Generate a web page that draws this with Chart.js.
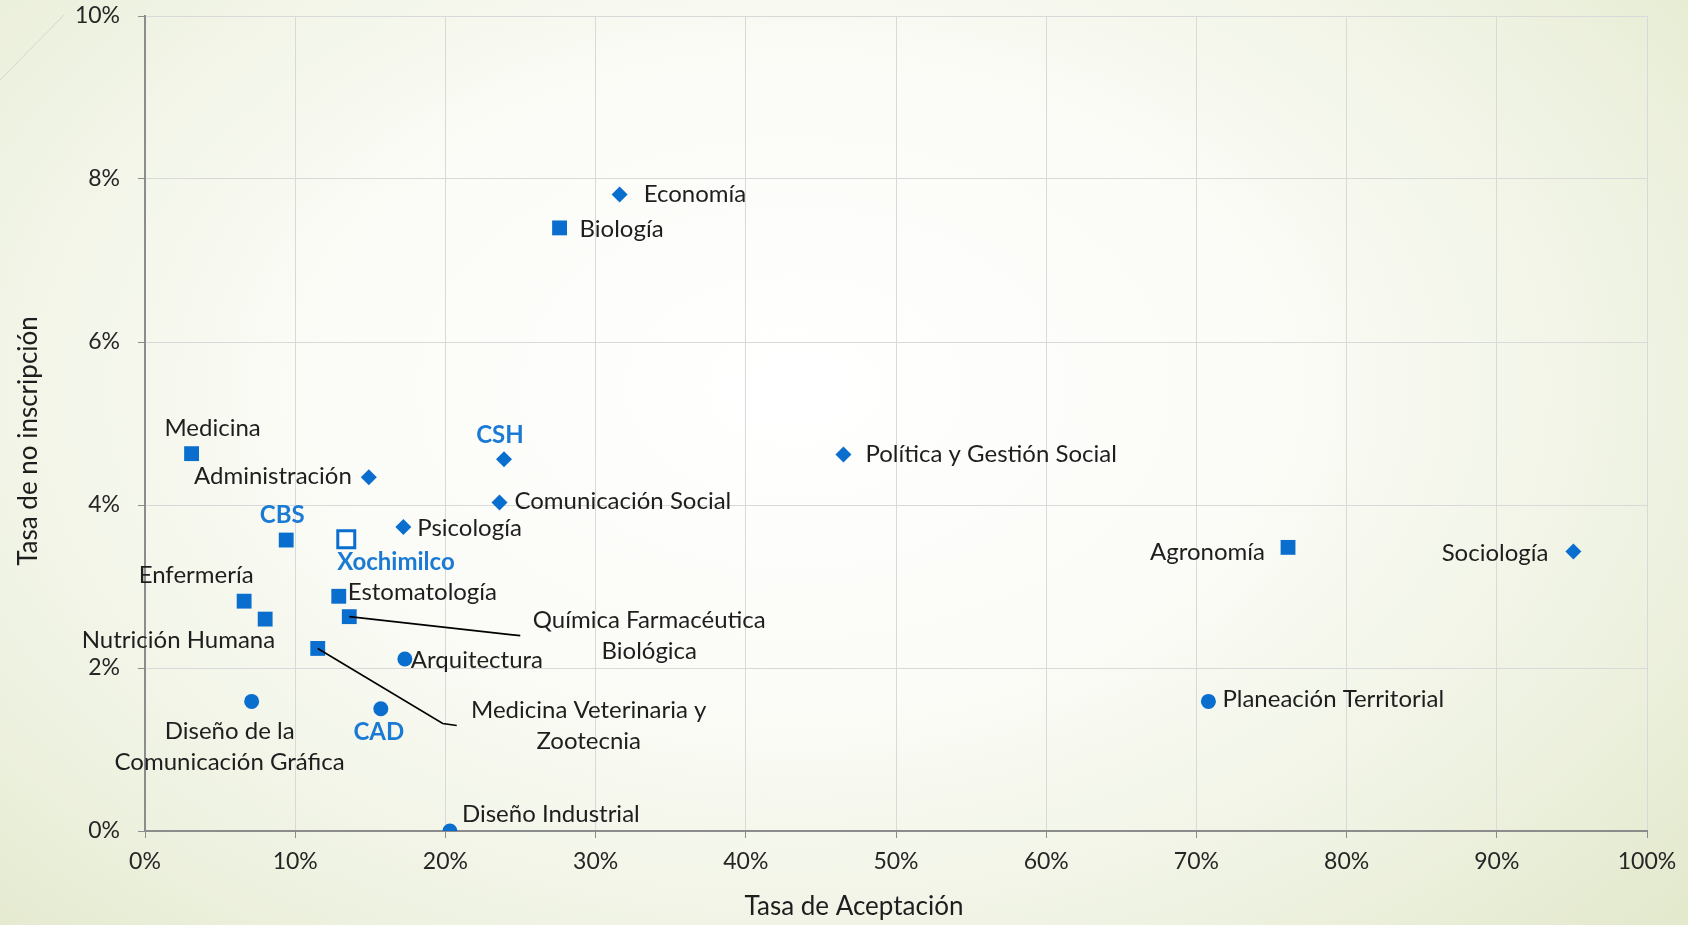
<!DOCTYPE html>
<html>
<head>
<meta charset="utf-8">
<script src="https://cdn.jsdelivr.net/npm/chart.js@4.4.1/dist/chart.umd.min.js"></script>
<style>
  html, body { margin: 0; padding: 0; }
  body {
    width: 1688px; height: 925px; overflow: hidden;
    background: radial-gradient(ellipse 70% 85% at 47% 42%, #ffffff 0%, #fbfcf7 40%, #eef2e1 75%, #e3e9cd 100%);
  }
  canvas { display: block; }
</style>
</head>
<body>
<canvas id="grafica" width="1688" height="925"></canvas>
<script>
// División CSH (rombos)
const carrerasCSH = ['Economía', 'Política y Gestión Social', 'Administración', 'Comunicación Social', 'Psicología', 'Sociología'];
const aceptacionCSH = [31.6, 46.5, 14.9, 23.6, 17.2, 95.1];
const noInscripcionCSH = [7.81, 4.62, 4.34, 4.03, 3.73, 3.43];

// División CBS (cuadrados)
const carrerasCBS = ['Biología', 'Medicina', 'Enfermería', 'Nutrición Humana', 'Estomatología',
  'Química Farmacéutica Biológica', 'Medicina Veterinaria y Zootecnia', 'Agronomía'];
const aceptacionCBS = [27.6, 3.1, 6.6, 8.0, 12.9, 13.6, 11.5, 76.1];
const noInscripcionCBS = [7.40, 4.63, 2.82, 2.60, 2.88, 2.63, 2.24, 3.48];

// División CAD (círculos)
const carrerasCAD = ['Arquitectura', 'Diseño de la Comunicación Gráfica', 'Diseño Industrial', 'Planeación Territorial'];
const aceptacionCAD = [17.3, 7.1, 20.3, 70.8];
const noInscripcionCAD = [2.11, 1.59, 0.0, 1.59];

// Totales por división y unidad
const divisiones = ['CSH', 'CBS', 'CAD'];
const aceptacionDiv = [23.9, 9.4, 15.7];
const noInscripcionDiv = [4.56, 3.57, 1.50];

const unidad = ['Xochimilco'];
const aceptacionUnidad = [13.4];
const noInscripcionUnidad = [3.58];

const ticksX = [0, 10, 20, 30, 40, 50, 60, 70, 80, 90, 100];
const ticksY = [0, 2, 4, 6, 8, 10];

const AZUL = '#0A6ECF';
const AZUL_TEXTO = '#1A7AD4';
const TEXTO = '#1e1e1e';
const FUENTE = 'Lato, "Open Sans", sans-serif';

// posición de cada etiqueta respecto a su punto (px)
const etiquetas = {
  'Economía': { dx: 24, dy: 8, align: 'left' },
  'Política y Gestión Social': { dx: 22, dy: 8, align: 'left' },
  'Administración': { dx: -17, dy: 7, align: 'right' },
  'Comunicación Social': { dx: 15, dy: 6, align: 'left' },
  'Psicología': { dx: 14, dy: 9, align: 'left' },
  'Sociología': { dx: -25, dy: 10, align: 'right' },
  'Biología': { dx: 20, dy: 9, align: 'left' },
  'Medicina': { dx: 21, dy: -18, align: 'center' },
  'Enfermería': { dx: -48, dy: -18, align: 'center' },
  'Nutrición Humana': { dx: 10, dy: 29, align: 'right' },
  'Estomatología': { dx: 9, dy: 4, align: 'left' },
  'Química Farmacéutica Biológica': { dx: 300, dy: 11, align: 'center', lineas: ['Química Farmacéutica', 'Biológica'], guia: [[161, 18], [171, 19]] },
  'Medicina Veterinaria y Zootecnia': { dx: 271, dy: 70, align: 'center', lineas: ['Medicina Veterinaria y', 'Zootecnia'], guia: [[125, 75], [139, 77]] },
  'Agronomía': { dx: -23, dy: 13, align: 'right' },
  'Arquitectura': { dx: 6, dy: 9, align: 'left' },
  'Diseño de la Comunicación Gráfica': { dx: -22, dy: 38, align: 'center', lineas: ['Diseño de la', 'Comunicación Gráfica'] },
  'Diseño Industrial': { dx: 12, dy: -9, align: 'left' },
  'Planeación Territorial': { dx: 14, dy: 6, align: 'left' },
  'CSH': { dx: -4, dy: -16, align: 'center', bold: true },
  'CBS': { dx: -4, dy: -17, align: 'center', bold: true },
  'CAD': { dx: -2, dy: 31, align: 'center', bold: true },
  'Xochimilco': { dx: -9, dy: 31, align: 'left', bold: true }
};

function puntos(xs, ys) {
  return xs.map((x, i) => ({ x: x, y: ys[i] }));
}

const etiquetasPlugin = {
  id: 'etiquetas',
  beforeDraw(chart) {
    const ctx = chart.ctx;
    ctx.save();
    ctx.strokeStyle = '#d3d9c3';
    ctx.lineWidth = 1;
    ctx.beginPath();
    ctx.moveTo(64, 15);
    ctx.lineTo(0, 80);
    ctx.stroke();
    ctx.restore();
  },
  afterDatasetsDraw(chart) {
    const ctx = chart.ctx;
    ctx.save();
    chart.data.datasets.forEach((ds, i) => {
      const meta = chart.getDatasetMeta(i);
      meta.data.forEach((pt, j) => {
        const nombre = ds.nombres[j];
        const e = etiquetas[nombre];
        if (!e) return;
        if (e.guia) {
          ctx.strokeStyle = '#000';
          ctx.lineWidth = 1.6;
          ctx.beginPath();
          ctx.moveTo(pt.x, pt.y);
          e.guia.forEach(g => ctx.lineTo(pt.x + g[0], pt.y + g[1]));
          ctx.stroke();
        }
        ctx.font = (e.bold ? 'bold ' : '') + '24px ' + FUENTE;
        ctx.fillStyle = e.bold ? AZUL_TEXTO : TEXTO;
        ctx.textAlign = e.align;
        ctx.textBaseline = 'alphabetic';
        const lineas = e.lineas || [nombre];
        lineas.forEach((t, k) => ctx.fillText(t, pt.x + e.dx, pt.y + e.dy + k * 31));
      });
    });

    // títulos de los ejes
    ctx.fillStyle = TEXTO;
    ctx.font = '26px ' + FUENTE;
    ctx.textAlign = 'center';
    ctx.textBaseline = 'middle';
    ctx.fillText('Tasa de Aceptación', 854, 907);
    ctx.translate(29, 441);
    ctx.rotate(-Math.PI / 2);
    ctx.fillText('Tasa de no inscripción', 0, 0);
    ctx.restore();
  }
};

new Chart(document.getElementById('grafica'), {
  type: 'scatter',
  data: {
    datasets: [
      {
        nombres: carrerasCSH,
        data: puntos(aceptacionCSH, noInscripcionCSH),
        pointStyle: 'rectRot', pointRadius: 8,
        backgroundColor: AZUL, borderColor: AZUL, borderWidth: 0
      },
      {
        nombres: carrerasCBS,
        data: puntos(aceptacionCBS, noInscripcionCBS),
        pointStyle: 'rect', pointRadius: 10.5,
        backgroundColor: AZUL, borderColor: AZUL, borderWidth: 0
      },
      {
        nombres: carrerasCAD,
        data: puntos(aceptacionCAD, noInscripcionCAD),
        pointStyle: 'circle', pointRadius: 7.5,
        backgroundColor: AZUL, borderColor: AZUL, borderWidth: 0
      },
      {
        nombres: divisiones,
        data: puntos(aceptacionDiv, noInscripcionDiv),
        pointStyle: ['rectRot', 'rect', 'circle'], pointRadius: [8, 10.5, 7.5],
        backgroundColor: AZUL, borderColor: AZUL, borderWidth: 0
      },
      {
        nombres: unidad,
        data: puntos(aceptacionUnidad, noInscripcionUnidad),
        pointStyle: 'rect', pointRadius: 12,
        backgroundColor: '#ffffff', borderColor: AZUL, borderWidth: 3
      }
    ]
  },
  options: {
    responsive: false,
    devicePixelRatio: 1,
    animation: false,
    layout: { padding: { left: 0, top: 16, right: 41, bottom: 0 } },
    plugins: {
      legend: { display: false },
      tooltip: { enabled: false }
    },
    scales: {
      x: {
        type: 'linear',
        min: 0, max: 100,
        afterFit: s => { s.height = 94; s.paddingLeft = 0; s.paddingRight = 0; },
        afterBuildTicks: s => { s.ticks = ticksX.map(v => ({ value: v })); },
        grid: { color: '#d9d9d9', lineWidth: 1, tickLength: 7, tickColor: '#8c8c8c' },
        border: { color: '#8c8c8c', width: 2 },
        ticks: {
          padding: 10,
          color: '#262626',
          font: { family: FUENTE, size: 23 },
          callback: v => v + '%'
        }
      },
      y: {
        type: 'linear',
        min: 0, max: 10,
        afterFit: s => { s.width = 145; s.paddingTop = 0; s.paddingBottom = 0; },
        afterBuildTicks: s => { s.ticks = ticksY.map(v => ({ value: v })); },
        grid: { color: '#d9d9d9', lineWidth: 1, tickLength: 7, tickColor: '#8c8c8c' },
        border: { color: '#8c8c8c', width: 2 },
        ticks: {
          padding: 18,
          color: '#262626',
          font: { family: FUENTE, size: 23 },
          callback: v => v + '%'
        }
      }
    }
  },
  plugins: [etiquetasPlugin]
});
</script>
</body>
</html>
